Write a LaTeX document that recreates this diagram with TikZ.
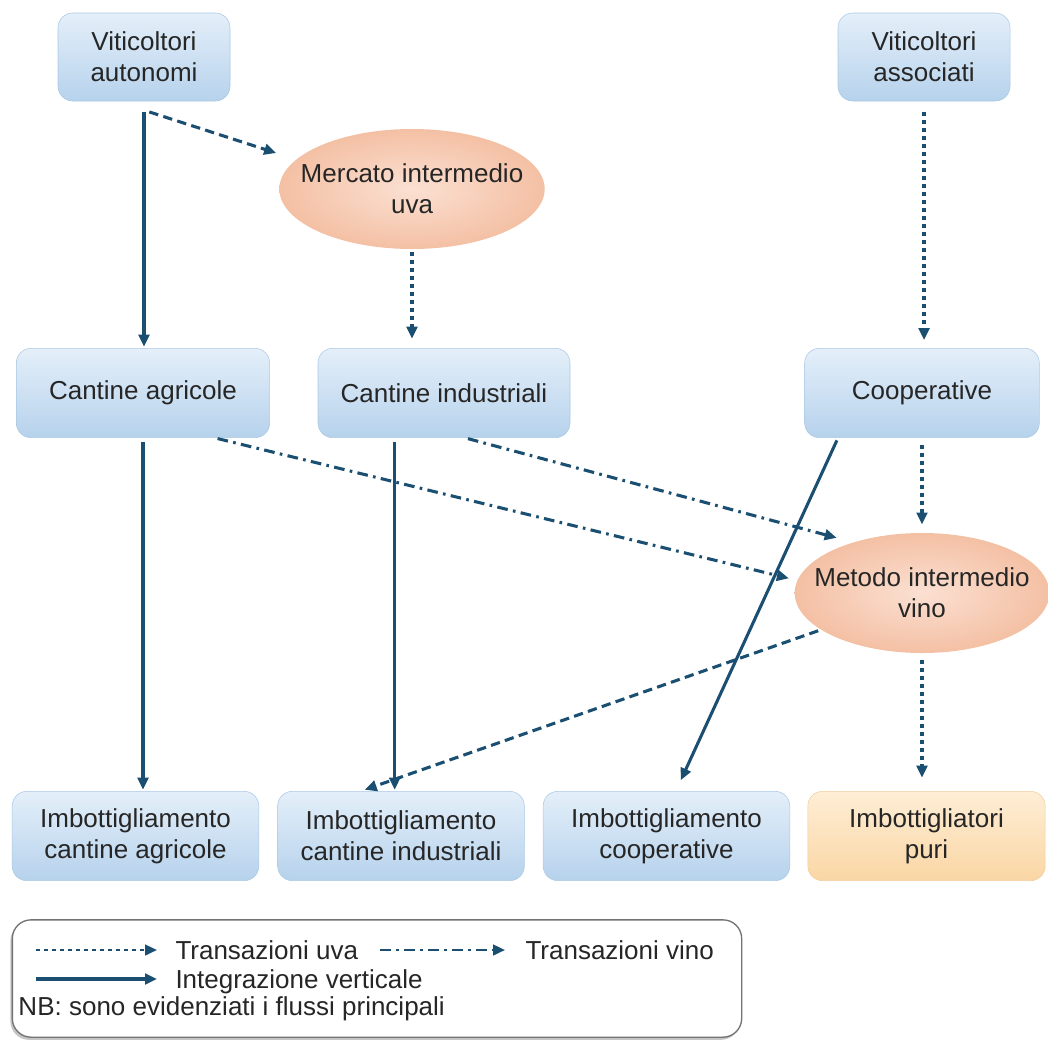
\documentclass[tikz,border=0pt]{standalone}
\usepackage{fontspec}
\setmainfont{Liberation Sans}
\usetikzlibrary{arrows.meta,shapes.geometric,shadows}

\definecolor{flow}{RGB}{27,79,114}
\definecolor{txt}{RGB}{38,38,38}
\definecolor{boxtop}{RGB}{228,239,249}
\definecolor{boxbot}{RGB}{182,210,236}
\definecolor{boxline}{RGB}{170,201,229}
\definecolor{ovalin}{RGB}{251,224,210}
\definecolor{ovalout}{RGB}{244,192,164}
\definecolor{puritop}{RGB}{254,238,214}
\definecolor{puribot}{RGB}{250,214,164}
\definecolor{puriline}{RGB}{240,205,160}

\tikzset{every picture/.style={line width=0.75pt}}
\tikzset{
  box/.style={rounded corners=11pt, top color=boxtop, bottom color=boxbot, draw=boxline,
    line width=0.4pt, minimum width=185pt, minimum height=67pt, align=center, text=txt,
    font=\fontsize{19.5}{23}\selectfont, inner sep=2pt},
  oval/.style={ellipse, inner color=ovalin, outer color=ovalout, draw=none,
    inner xsep=-14pt, inner ysep=0pt, minimum width=195pt, minimum height=90pt,
    align=center, text=txt, font=\fontsize{19.5}{23}\selectfont},
  flowline/.style={draw=flow, line width=2.3pt, -{Triangle[length=9pt,width=8pt]}},
  vert/.style={flowline},
  uva/.style={flowline, dash pattern=on 7pt off 4pt},
  uvashort/.style={flowline, dash pattern=on 3pt off 3pt},
  vino/.style={flowline, dash pattern=on 8pt off 4pt on 2pt off 4pt},
  legtext/.style={anchor=base west, inner sep=0pt, text=txt, font=\fontsize{19.5}{22}\selectfont}
}

\begin{document}
\begin{tikzpicture}[x=0.75pt,y=0.75pt,yscale=-1,xscale=1]
\useasboundingbox (0,0) rectangle (1048,1043);

% Boxes
\node [box, minimum width=129pt, minimum height=66pt] (vauto) at (144,57) {Viticoltori\\autonomi};
\node [box, minimum width=129pt, minimum height=66pt] (vassoc) at (924,57) {Viticoltori\\associati};
\node [box, minimum width=190pt] (cagr) at (143,393) {Cantine agricole};
\node [box, minimum width=189pt] (cind) at (444,393) {Cantine industriali};
\node [box, minimum width=176pt] (coop) at (922,393) {Cooperative};
\node [box] (icagr) at (135.5,836) {Imbottigliamento\\cantine agricole};
\node [box] (icind) at (401,836) {Imbottigliamento\\cantine industriali};
\node [box] (icoop) at (666.5,836) {Imbottigliamento\\cooperative};
\node [box, minimum width=178pt, top color=puritop, bottom color=puribot, draw=puriline] (ipuri) at (926.5,836) {Imbottigliatori\\puri};

% Ellipses
\node [oval, minimum width=199pt] (mercato) at (412,189) {Mercato intermedio\\uva};
\node [oval, minimum width=191pt] (metodo) at (922,593) {Metodo intermedio\\vino};

% Integrazione verticale
\draw [vert, shorten <=8pt, shorten >=1pt] (vauto.south) -- (vauto.south |- cagr.north);
\draw [vert, shorten <=3pt, shorten >=1pt] (cagr.south) -- (cagr.south |- icagr.north);
\draw [vert, shorten <=3pt, shorten >=1pt] ([xshift=-37pt]cind.south) -- ([xshift=-37pt]cind.south |- icind.north);
\draw [vert, shorten <=2pt, shorten >=9pt] ([xshift=-63pt]coop.south) -- ([xshift=7pt]icoop.north);

% Transazioni uva (yshift follows yscale=-1: positive is down)
\draw [uva] ([xshift=4pt,yshift=8pt]vauto.south) -- ([xshift=-2pt,yshift=-27pt]mercato.west);
\draw [uvashort, shorten <=2pt, shorten >=7pt] (mercato.south) -- (mercato.south |- cind.north);
\draw [uvashort, shorten <=8pt, shorten >=6pt] (vassoc.south) -- (vassoc.south |- coop.north);
\draw [uvashort, shorten <=5pt, shorten >=6pt] (coop.south) -- (coop.south |- metodo.north);
\draw [uvashort, shorten <=5pt, shorten >=10pt] (metodo.south) -- (metodo.south |- ipuri.north);
\draw [uva, shorten <=2pt, shorten >=3pt] (metodo.200) -- ([xshift=-30pt]icind.north);

% Transazioni vino
\draw [vino, shorten <=2pt] ([xshift=54pt]cagr.south) -- ([xshift=-4pt,yshift=-11pt]metodo.west);
\draw [vino, shorten <=2pt] ([xshift=16pt]cind.south) -- ([xshift=-64pt,yshift=4pt]metodo.north);

% Legend
\node [draw=black!55, line width=1pt, fill=white, rounded corners=14pt, minimum width=547pt, minimum height=88pt,
  drop shadow={shadow xshift=-1.5pt, shadow yshift=-2pt, opacity=0.45}] (legend) at (377,978.5) {};
\coordinate (luA) at (36,950);
\coordinate (luB) at (157,950);
\coordinate (lvA) at (380,950);
\coordinate (lvB) at (505,950);
\coordinate (liA) at (36,979);
\coordinate (liB) at (157,979);
\draw [uvashort, line width=1.8pt] (luA) -- (luB);
\draw [vino, line width=1.8pt] (lvA) -- (lvB);
\draw [vert] (liA) -- (liB);
\node [legtext] (tuva) at (175,959) {Transazioni uva};
\node [legtext] (tvino) at (525,959) {Transazioni vino};
\node [legtext] (tint) at (175,988) {Integrazione verticale};
\node [legtext] (tnb) at (18,1015) {NB: sono evidenziati i flussi principali};

\end{tikzpicture}
\end{document}
